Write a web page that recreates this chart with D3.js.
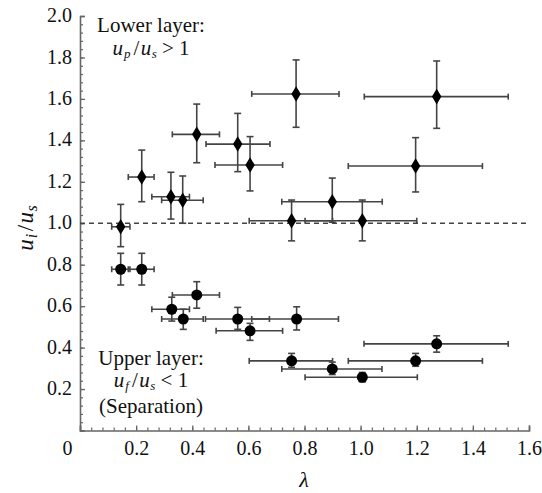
<!DOCTYPE html>
<html><head><meta charset="utf-8">
<script src="https://cdn.jsdelivr.net/npm/d3@7"></script>
<style>
html,body{margin:0;padding:0;background:#fff;}
svg{display:block;}
</style></head>
<body>
<svg id="chart" width="542" height="493"></svg>
<script>
// ---- data ----
const diamondX   = [0.145,0.22,0.324,0.366,0.416,0.562,0.606,0.77,1.271,1.196,0.899,0.754,1.006];
const diamondY   = [0.983,1.223,1.128,1.111,1.429,1.382,1.281,1.624,1.611,1.276,1.104,1.012,1.012];
const diamondXLo = [0.113,0.172,0.256,0.291,0.329,0.449,0.481,0.612,1.013,0.956,0.719,0.603,0.802];
const diamondXHi = [0.178,0.264,0.39,0.439,0.497,0.677,0.722,0.923,1.526,1.434,1.077,0.9,1.2];
const diamondYLo = [0.887,1.104,1.02,1.0,1.292,1.249,1.156,1.463,1.458,1.151,1.005,0.915,0.915];
const diamondYHi = [1.091,1.353,1.246,1.228,1.575,1.53,1.418,1.788,1.783,1.413,1.218,1.112,1.112];

const circleX   = [0.145,0.22,0.327,0.368,0.416,0.562,0.606,0.772,1.271,1.196,0.754,0.899,1.006];
const circleY   = [0.778,0.778,0.585,0.538,0.654,0.538,0.481,0.538,0.418,0.336,0.336,0.297,0.257];
const circleXLo = [0.113,0.172,0.256,0.291,0.329,0.447,0.485,0.612,1.012,0.956,0.603,0.719,0.802];
const circleXHi = [0.178,0.264,0.39,0.439,0.497,0.675,0.722,0.921,1.526,1.434,0.9,1.076,1.202];
const circleYLo = [0.702,0.702,0.528,0.488,0.59,0.488,0.435,0.485,0.378,0.31,0.305,0.27,0.235];
const circleYHi = [0.855,0.855,0.643,0.585,0.718,0.594,0.517,0.597,0.457,0.372,0.372,0.33,0.28];

const xMajorTicks = [0,0.2,0.4,0.6,0.8,1.0,1.2,1.4,1.6];
const yMajorTicks = [0.2,0.4,0.6,0.8,1.0,1.2,1.4,1.6,1.8,2.0];
const referenceLevel = 1.0;

// ---- layout ----
const svg = d3.select("#chart");
const x = d3.scaleLinear().domain([0,1.6]).range([80,529]);
const y = d3.scaleLinear().domain([0,2.0]).range([430.5,16]);
const axisColor = "#666";
const barColor = "#444";
const serif = "Liberation Serif";
const ink = "#111";

const minorX = d3.range(0,41).map(i=>i*0.04).filter(v=>v<=1.6001);
const minorY = d3.range(0,51).map(i=>i*0.04).filter(v=>v<=2.0001);

// minor ticks
svg.append("g").attr("transform","translate(0,430.5)")
  .call(d3.axisBottom(x).tickValues(minorX).tickSize(-3).tickFormat(""))
  .call(g=>{g.select(".domain").remove();g.selectAll("line").attr("stroke",axisColor).attr("stroke-width",1.2);});
svg.append("g").attr("transform","translate(80,0)")
  .call(d3.axisLeft(y).tickValues(minorY).tickSize(-3).tickFormat(""))
  .call(g=>{g.select(".domain").remove();g.selectAll("line").attr("stroke",axisColor).attr("stroke-width",1.2);});

// major axes
const xAxis = svg.append("g").attr("transform","translate(0,430.5)")
  .call(d3.axisBottom(x).tickValues(xMajorTicks).tickSize(-5).tickPadding(10)
        .tickFormat(d=>d===0?"0":d3.format(".1f")(d)));
xAxis.attr("font-family",serif);
xAxis.select(".domain").attr("stroke",axisColor).attr("stroke-width",1.6);
xAxis.selectAll("line").attr("stroke",axisColor).attr("stroke-width",1.3);
xAxis.selectAll("text").attr("font-size",20).attr("font-family",serif).attr("fill",ink);
xAxis.selectAll(".tick").filter(d=>d===0).select("text").attr("dx",-13);

const yAxis = svg.append("g").attr("transform","translate(80,0)")
  .call(d3.axisLeft(y).tickValues(yMajorTicks).tickSize(-5).tickPadding(8)
        .tickFormat(d3.format(".1f")));
yAxis.attr("font-family",serif);
yAxis.select(".domain").attr("stroke",axisColor).attr("stroke-width",1.6);
yAxis.selectAll("line").attr("stroke",axisColor).attr("stroke-width",1.3);
yAxis.selectAll("text").attr("font-size",20).attr("font-family",serif).attr("fill",ink).attr("dy","0.28em");

// dashed reference line
svg.append("line")
  .attr("x1",x(0)).attr("x2",x(1.6)).attr("y1",y(referenceLevel)).attr("y2",y(referenceLevel))
  .attr("stroke","#444").attr("stroke-width",1.3).attr("stroke-dasharray","5,4");

// error bars
function errorBars(xs,ys,xlo,xhi,ylo,yhi){
  const g = svg.append("g").attr("stroke",barColor).attr("stroke-width",1.6).attr("fill","none");
  xs.forEach((xv,i)=>{
    const cx=x(xv), cy=y(ys[i]);
    g.append("line").attr("x1",x(xlo[i])).attr("x2",x(xhi[i])).attr("y1",cy).attr("y2",cy);
    g.append("line").attr("x1",x(xlo[i])).attr("x2",x(xlo[i])).attr("y1",cy-3).attr("y2",cy+3);
    g.append("line").attr("x1",x(xhi[i])).attr("x2",x(xhi[i])).attr("y1",cy-3).attr("y2",cy+3);
    g.append("line").attr("x1",cx).attr("x2",cx).attr("y1",y(ylo[i])).attr("y2",y(yhi[i]));
    g.append("line").attr("x1",cx-3.5).attr("x2",cx+3.5).attr("y1",y(ylo[i])).attr("y2",y(ylo[i]));
    g.append("line").attr("x1",cx-3.5).attr("x2",cx+3.5).attr("y1",y(yhi[i])).attr("y2",y(yhi[i]));
  });
}
errorBars(diamondX,diamondY,diamondXLo,diamondXHi,diamondYLo,diamondYHi);
errorBars(circleX,circleY,circleXLo,circleXHi,circleYLo,circleYHi);

// markers
svg.append("g").selectAll("path").data(diamondX).join("path")
  .attr("d",d3.symbol(d3.symbolDiamond,70))
  .attr("transform",(d,i)=>`translate(${x(d)},${y(diamondY[i])}) scale(1.05,1)`)
  .attr("fill","#000");
svg.append("g").selectAll("circle").data(circleX).join("circle")
  .attr("cx",d=>x(d)).attr("cy",(d,i)=>y(circleY[i])).attr("r",5.5)
  .attr("fill","#000");

// annotations
function ratio(sub1, op, xC, yB){
  const t = svg.append("text").attr("x",xC).attr("y",yB).attr("text-anchor","middle")
    .attr("font-size",21).attr("font-family",serif).attr("fill",ink);
  t.append("tspan").attr("font-style","italic").text("u");
  t.append("tspan").attr("font-style","italic").attr("font-size",13).attr("dy",3).attr("dx",1).text(sub1);
  t.append("tspan").attr("dy",-3).attr("dx",3).text("/");
  t.append("tspan").attr("font-style","italic").attr("dx",1.5).text("u");
  t.append("tspan").attr("font-style","italic").attr("font-size",13).attr("dy",3).attr("dx",0.5).text("s");
  t.append("tspan").attr("dy",-3).text(" " + op + " 1");
}
function label(str, xC, yB){
  svg.append("text").attr("x",xC).attr("y",yB).attr("text-anchor","middle")
    .attr("font-size",21).attr("font-family",serif).attr("fill",ink).text(str);
}
label("Lower layer:",151,32);
ratio("p",">",151,55);
label("Upper layer:",151,365);
ratio("f","<",151,387);
label("(Separation)",151,413);

// axis titles
svg.append("text").attr("x",304).attr("y",487).attr("text-anchor","middle").attr("font-family",serif)
  .attr("fill",ink).attr("font-size",22).attr("font-style","italic").text("λ");
const yt = svg.append("text").attr("transform","translate(33,228) rotate(-90)").attr("font-family",serif)
  .attr("fill",ink).attr("text-anchor","middle").attr("font-size",23);
yt.append("tspan").attr("font-style","italic").text("u");
yt.append("tspan").attr("font-style","italic").attr("font-size",16).attr("dy",4).attr("dx",1).text("i");
yt.append("tspan").attr("dy",-4).attr("dx",2.5).text("/");
yt.append("tspan").attr("font-style","italic").attr("dx",1.5).text("u");
yt.append("tspan").attr("font-style","italic").attr("font-size",16).attr("dy",4).attr("dx",0.5).text("s");
</script>
</body></html>
